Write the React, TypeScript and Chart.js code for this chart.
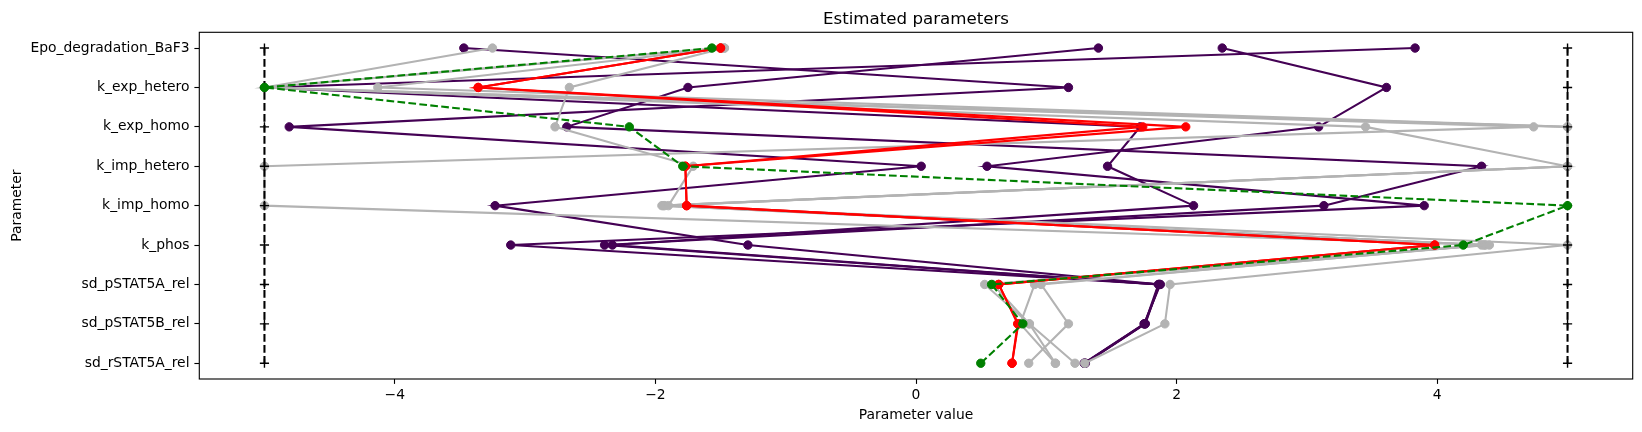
import React, { useEffect, useRef } from 'react';
import { Chart, registerables } from 'chart.js';

Chart.register(...registerables);

// ---------- data ----------
const PARAMETERS = [
  'Epo_degradation_BaF3',
  'k_exp_hetero',
  'k_exp_homo',
  'k_imp_hetero',
  'k_imp_homo',
  'k_phos',
  'sd_pSTAT5A_rel',
  'sd_pSTAT5B_rel',
  'sd_rSTAT5A_rel',
];
const X_TICKS = [-4, -2, 0, 2, 4];
const TITLE = 'Estimated parameters';
const X_LABEL = 'Parameter value';
const Y_LABEL = 'Parameter';

const LOWER_BOUNDS = [-5, -5, -5, -5, -5, -5, -5, -5, -5];
const UPPER_BOUNDS = [5, 5, 5, 5, 5, 5, 5, 5, 5];

const REFERENCE = [-1.566, -5, -2.2, -1.79, 5, 4.2, 0.58, 0.82, 0.497];

const BEST_START_1 = [-1.5, -3.36, 1.74, -1.77, -1.76, 3.98, 0.635, 0.78, 0.737];
const BEST_START_2 = [-1.5, -3.36, 2.07, -1.77, -1.76, 3.98, 0.635, 0.785, 0.737];

const CLUSTER_START_1 = [-3.47, 1.17, -4.81, 0.04, -3.23, -1.29, 1.87, 1.755, 1.295];
const CLUSTER_START_2 = [1.4, -1.75, -2.68, 4.34, 3.13, -2.39, 1.86, 1.755, 1.295];
const CLUSTER_START_3 = [2.35, 3.61, 3.09, 0.545, 3.9, -3.11, 1.875, 1.75, 1.29];
const CLUSTER_START_4 = [3.83, -5, 1.72, 1.47, 2.13, -2.33, 1.865, 1.76, 1.3];

const OTHER_START_1 = [-3.25, -5, 4.74, -5, -5, 4.4, 0.527, 0.87, 1.22];
const OTHER_START_2 = [-1.47, -2.66, -2.77, -1.71, -1.9, 4.34, 0.96, 1.17, 0.865];
const OTHER_START_3 = [-1.47, -4.13, 5, 5, -1.95, 4.37, 0.91, 0.8, 1.07];
const OTHER_START_4 = [-1.49, -5, 3.45, 5, -1.93, 4.36, 0.59, 0.87, 1.07];
const OTHER_START_5 = [-1.5, -5, 5, 5, -1.94, 5, 1.95, 1.91, 1.295];

// ---------- styles ----------
const FONT = 'DejaVu Sans';
const PURPLE = '#440154';
const GRAY = '#b3b3b3';
const RED = '#ff0000';
const GREEN = '#008000';
const LW = 2.08;
const DASH = [7.7, 3.3];

const fmtTick = (v: number) => (v < 0 ? '\u2212' + Math.abs(v) : String(v));

function series(values: number[], color: string, order: number, extra: any = {}) {
  return {
    data: values.map((v, i) => ({ x: v, y: i })),
    borderColor: color,
    backgroundColor: color,
    pointBackgroundColor: color,
    pointBorderColor: color,
    borderWidth: LW,
    pointRadius: 4.2,
    pointBorderWidth: 1,
    pointHoverRadius: 4.2,
    tension: 0,
    fill: false,
    order,
    ...extra,
  };
}

const framePlugin = {
  id: 'frameAndTexts',
  afterDraw(chart: any) {
    const { ctx, chartArea } = chart;
    const { left, top, right, bottom } = chartArea;
    ctx.save();
    ctx.strokeStyle = '#000';
    ctx.lineWidth = 1.11;
    ctx.strokeRect(left, top, right - left, bottom - top);
    ctx.fillStyle = '#000';
    ctx.textAlign = 'center';
    ctx.font = `16.67px "${FONT}"`;
    ctx.textBaseline = 'alphabetic';
    ctx.fillText(TITLE, (left + right) / 2, top - 8.5);
    ctx.font = `13.89px "${FONT}"`;
    ctx.textBaseline = 'middle';
    ctx.fillText(X_LABEL, (left + right) / 2, 415);
    ctx.translate(17, (top + bottom) / 2);
    ctx.rotate(-Math.PI / 2);
    ctx.fillText(Y_LABEL, 0, 0);
    ctx.restore();
  },
};

export default function App() {
  const ref = useRef<HTMLCanvasElement>(null);
  useEffect(() => {
    document.body.style.margin = '0';
    const canvas = ref.current;
    if (!canvas) return;
    const datasets: any[] = [
      series(REFERENCE, GREEN, 1, { borderDash: DASH }),
      series(BEST_START_1, RED, 2),
      series(BEST_START_2, RED, 2),
      series(LOWER_BOUNDS, '#000', 3, { borderDash: DASH, pointStyle: 'cross', pointRadius: 4.6, pointBorderWidth: 1.4 }),
      series(UPPER_BOUNDS, '#000', 3, { borderDash: DASH, pointStyle: 'cross', pointRadius: 4.6, pointBorderWidth: 1.4 }),
      series(OTHER_START_1, GRAY, 4),
      series(OTHER_START_2, GRAY, 4),
      series(OTHER_START_3, GRAY, 4),
      series(OTHER_START_4, GRAY, 4),
      series(OTHER_START_5, GRAY, 4),
      series(CLUSTER_START_1, PURPLE, 5),
      series(CLUSTER_START_2, PURPLE, 5),
      series(CLUSTER_START_3, PURPLE, 5),
      series(CLUSTER_START_4, PURPLE, 5),
    ];
    const tickFont = { family: FONT, size: 13.89 };
    const grid = {
      display: true,
      drawOnChartArea: false,
      drawTicks: true,
      tickLength: 4.9,
      tickWidth: 1.11,
      tickColor: '#000',
    };
    const chart = new Chart(canvas, {
      type: 'line',
      data: { datasets },
      options: {
        responsive: false,
        animation: false,
        devicePixelRatio: 1,
        events: [],
        layout: { padding: { top: 32.3, right: 9.3, left: 0, bottom: 0 } },
        plugins: {
          legend: { display: false },
          tooltip: { enabled: false },
          title: { display: false },
        },
        scales: {
          x: {
            type: 'linear',
            min: -5.5,
            max: 5.5,
            afterBuildTicks: (s: any) => {
              s.ticks = X_TICKS.map((v) => ({ value: v }));
            },
            afterFit: (s: any) => {
              s.height = 53;
            },
            grid,
            border: { display: false },
            ticks: {
              color: '#000',
              font: tickFont,
              padding: 3,
              maxRotation: 0,
              autoSkip: false,
              callback: (v: any) => fmtTick(Number(v)),
            },
          },
          y: {
            type: 'linear',
            min: -0.4,
            max: 8.4,
            reverse: true,
            afterBuildTicks: (s: any) => {
              s.ticks = PARAMETERS.map((_, i) => ({ value: i }));
            },
            afterFit: (s: any) => {
              s.width = 199.3;
            },
            grid,
            border: { display: false },
            ticks: {
              color: '#000',
              font: tickFont,
              padding: 4.9,
              autoSkip: false,
              callback: (v: any) => PARAMETERS[Number(v)] ?? '',
            },
          },
        },
      } as any,
      plugins: [framePlugin],
    });
    return () => chart.destroy();
  }, []);
  return (
    <canvas
      ref={ref}
      width={1642}
      height={432}
      style={{ display: 'block', width: 1642, height: 432 }}
    />
  );
}
